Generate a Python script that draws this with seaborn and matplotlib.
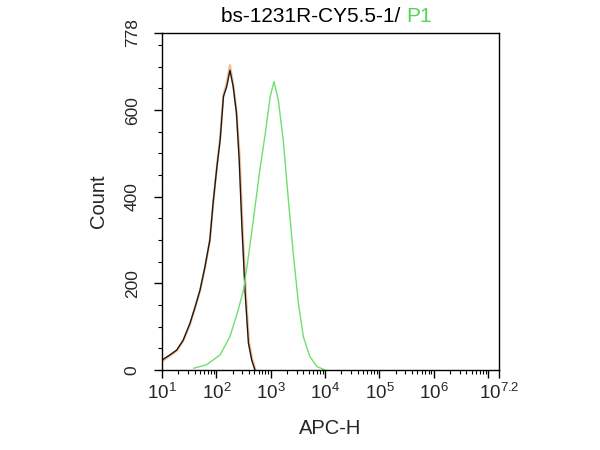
import numpy as np
import pandas as pd
import matplotlib
matplotlib.use("Agg")
import matplotlib.pyplot as plt
import seaborn as sns

# Data (x in log10 units, y = count)
black_logx = [1.00, 1.147, 1.27, 1.39, 1.515, 1.61, 1.70, 1.79, 1.88, 1.94, 2.01, 2.07,
              2.13, 2.19, 2.25, 2.31, 2.37, 2.42, 2.47, 2.53, 2.59, 2.65, 2.71]
black_count = [23, 35, 46, 69, 108, 146, 185, 238, 300, 385, 469, 531,
               631, 654, 692, 654, 593, 485, 331, 177, 62, 23, 0]
orange_logx = [1.00, 1.147, 1.27, 1.39, 1.515, 1.61, 1.70, 1.79, 1.88, 1.94, 2.01, 2.07,
               2.13, 2.19, 2.25, 2.31, 2.37, 2.43, 2.48, 2.54, 2.60, 2.66, 2.72]
orange_count = [20, 33, 44, 67, 105, 144, 182, 236, 298, 383, 470, 535,
                636, 662, 704, 660, 598, 490, 336, 182, 66, 25, 0]
green_logx = [1.58, 1.82, 2.07, 2.25, 2.40, 2.50, 2.59, 2.68, 2.80, 2.90, 2.99, 3.06,
              3.14, 3.23, 3.32, 3.42, 3.51, 3.60, 3.72, 3.85, 4.00]
green_count = [4, 12, 35, 77, 138, 185, 262, 346, 462, 546, 631, 666,
               623, 531, 400, 262, 154, 77, 31, 8, 0]

x_tick_exps = [1, 2, 3, 4, 5, 6, 7, 7.2]
x_tick_labels = [r"$10^{1}$", r"$10^{2}$", r"$10^{3}$", r"$10^{4}$", r"$10^{5}$",
                 r"$10^{6}$", "", r"$10^{7.2}$"]
y_ticks = [0, 200, 400, 600, 778]
y_tick_labels = ["0", "200", "400", "600", "778"]
title_main = "bs-1231R-CY5.5-1/ "
title_gate = "P1"
x_label = "APC-H"
y_label = "Count"

sns.set_style("ticks")
plt.rcParams["font.family"] = ["Liberation Sans", "DejaVu Sans"]
plt.rcParams["mathtext.fontset"] = "custom"
plt.rcParams["mathtext.rm"] = "Liberation Sans"
plt.rcParams["mathtext.it"] = "Liberation Sans"
plt.rcParams["mathtext.default"] = "rm"

fig = plt.figure(figsize=(6, 4.5), dpi=100)
ax = fig.add_axes([162 / 600, 80 / 450, 337 / 600, 337 / 450])

df_o = pd.DataFrame({"x": np.power(10.0, orange_logx), "y": orange_count})
df_b = pd.DataFrame({"x": np.power(10.0, black_logx), "y": black_count})
df_g = pd.DataFrame({"x": np.power(10.0, green_logx), "y": green_count})

sns.lineplot(data=df_o, x="x", y="y", ax=ax, color="#F5BE92", linewidth=1.6, sort=False)
sns.lineplot(data=df_b, x="x", y="y", ax=ax, color="#1a1a1a", linewidth=1.0, sort=False)
sns.lineplot(data=df_g, x="x", y="y", ax=ax, color="#6ee06e", linewidth=1.0, sort=False)

ax.set_xscale("log")
ax.set_xlim(10 ** 1, 10 ** 7.2)
ax.set_ylim(0, 778)

ax.set_xticks([10.0 ** e for e in x_tick_exps])
ax.set_xticklabels(x_tick_labels, fontsize=13.5)
minor = [m * 10.0 ** k for k in range(1, 8) for m in range(2, 10) if m * 10.0 ** k < 10 ** 7.2]
ax.set_xticks(minor, minor=True)
ax.set_yticks(y_ticks)
ax.set_yticklabels(y_tick_labels, fontsize=12.5, rotation=90, va="center")
ax.set_yticks(list(range(50, 778, 50)), minor=True)

ax.tick_params(axis="both", which="major", length=6, width=1, color="black", direction="out")
ax.tick_params(axis="both", which="minor", length=3, width=0.8, color="black", direction="out")
ax.tick_params(axis="y", which="major", pad=10)
ax.tick_params(axis="x", which="major", pad=3)
for sp in ax.spines.values():
    sp.set_visible(True)
    sp.set_color("black")
    sp.set_linewidth(1.0)

ax.set_xlabel(x_label, fontsize=14.5, labelpad=12)
ax.set_ylabel(y_label, fontsize=14.5, labelpad=12)

# Two-colour title
t1 = fig.text(0.5, 0, title_main, fontsize=15, color="black", ha="left", va="baseline")
fig.canvas.draw()
renderer = fig.canvas.get_renderer()
t2 = fig.text(0, 0, title_gate, fontsize=15, color="#55d455", ha="left", va="baseline")
w1 = t1.get_window_extent(renderer).width / fig.bbox.width
w2 = t2.get_window_extent(renderer).width / fig.bbox.width
x0 = (218 + 435) / 2 / 600 - (w1 + w2) / 2
ybase = (450 - 22) / 450
t1.set_position((x0, ybase))
t2.set_position((x0 + w1, ybase))

fig.savefig("out.png", dpi=100, facecolor="white")
